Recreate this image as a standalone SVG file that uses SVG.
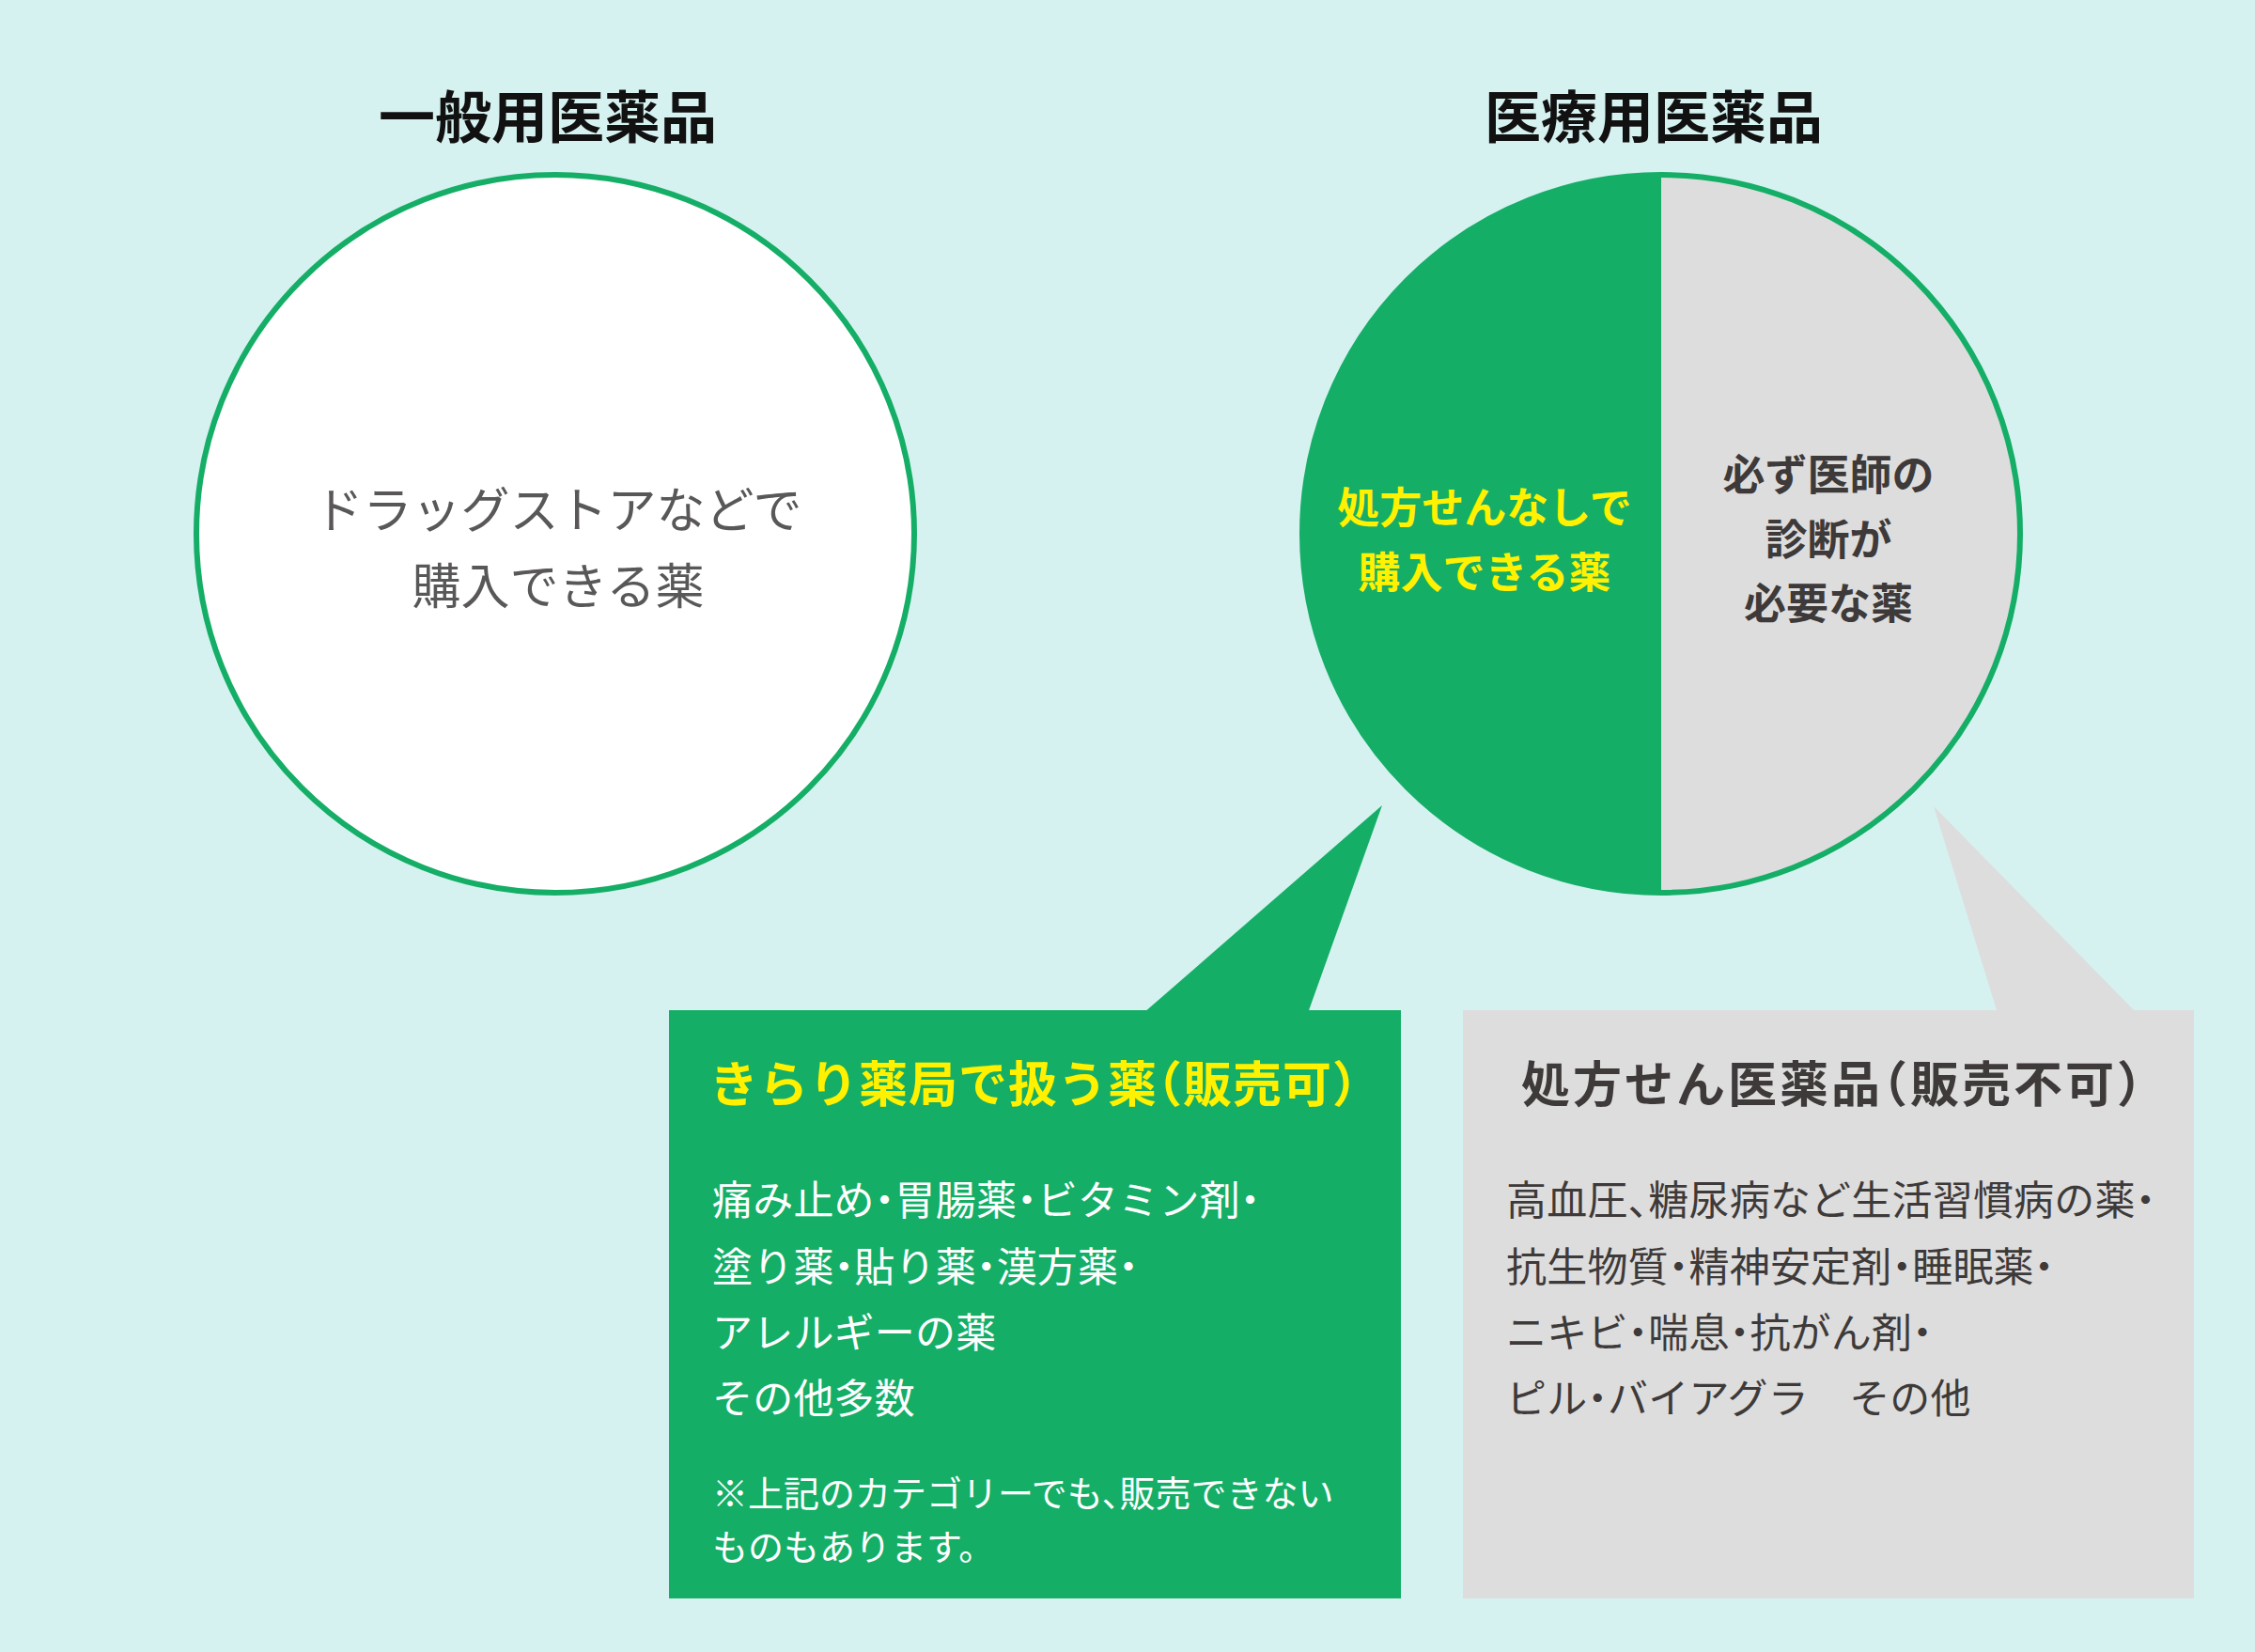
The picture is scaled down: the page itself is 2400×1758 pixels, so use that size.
<svg xmlns="http://www.w3.org/2000/svg" width="2400" height="1758" viewBox="0 0 2400 1758">
<style>
text{font-family:"Noto Sans CJK JP","Noto Sans",sans-serif;}
.title{font-size:60px;font-weight:700;fill:#111;text-anchor:middle;}
.ctext{font-size:52px;fill:#595757;text-anchor:middle;}
.ytext{font-size:45px;font-weight:700;fill:#FFF100;text-anchor:middle;}
.gtext{font-size:45px;font-weight:700;fill:#3E3A39;text-anchor:middle;}
.htitle{font-size:52px;font-weight:700;font-feature-settings:"halt" 1;}
.body{font-size:43px;font-feature-settings:"halt" 1;letter-spacing:0.2px;}
.note{font-size:38px;font-feature-settings:"halt" 1;}
.white{fill:#FFFFFF;}
.yellow{fill:#FFF100;}
.dark{fill:#3E3A39;}
.green{fill:#15AE67;}
.grey{fill:#DDDDDD;}
</style>
<rect x="0" y="0" width="2400" height="1758" fill="#D5F2F0"/>

<g id="title-left"><text class="title" x="583" y="147">一般用医薬品</text></g>
<g id="title-right"><text class="title" x="1760" y="147">医療用医薬品</text></g>

<g id="circle-left">
<circle cx="591" cy="568" r="382" fill="#FFFFFF" stroke="#15AE67" stroke-width="6"/>
<text class="ctext" x="594" y="562">ドラッグストアなどで</text>
<text class="ctext" x="594" y="643">購入できる薬</text>
</g>

<g id="circle-right">
<path class="green" d="M1768,186 A382,382 0 0,0 1768,950 Z"/>
<path class="grey" d="M1768,186 A382,382 0 0,1 1768,950 Z"/>
<circle cx="1768" cy="568" r="382" fill="none" stroke="#15AE67" stroke-width="6"/>
<text class="ytext" x="1580" y="557">処方せんなしで</text>
<text class="ytext" x="1580" y="626">購入できる薬</text>
<text class="gtext" x="1946" y="522">必ず医師の</text>
<text class="gtext" x="1946" y="591">診断が</text>
<text class="gtext" x="1946" y="659">必要な薬</text>
</g>

<g id="connectors">
<polygon class="green" points="1217,1078 1471,857 1392,1078"/>
<polygon class="grey" points="2126,1078 2058,858 2274,1078"/>
</g>

<g id="callout-green">
<rect class="green" x="712" y="1075" width="779" height="626"/>
<text class="htitle yellow" x="755" y="1173" letter-spacing="1">きらり薬局で扱う薬（販売可）</text>
<text class="body white" x="758" y="1293"><tspan>痛み止め</tspan><tspan>・</tspan><tspan>胃腸薬</tspan><tspan>・</tspan><tspan>ビタミン剤</tspan><tspan>・</tspan></text>
<text class="body white" x="758" y="1364"><tspan>塗り薬</tspan><tspan>・</tspan><tspan>貼り薬</tspan><tspan>・</tspan><tspan>漢方薬</tspan><tspan>・</tspan></text>
<text class="body white" x="758" y="1434">アレルギーの薬</text>
<text class="body white" x="758" y="1504">その他多数</text>
<text class="note white" x="758" y="1603"><tspan>※上記のカテゴリーでも</tspan><tspan>、</tspan><tspan>販売できない</tspan></text>
<text class="note white" x="758" y="1660">ものもあります。</text>
</g>

<g id="callout-grey">
<rect class="grey" x="1557" y="1075" width="778" height="626"/>
<text class="htitle dark" x="1619" y="1173" letter-spacing="3">処方せん医薬品（販売不可）</text>
<text class="body dark" x="1603" y="1293"><tspan>高血圧</tspan><tspan>、</tspan><tspan>糖尿病など生活習慣病の薬</tspan><tspan>・</tspan></text>
<text class="body dark" x="1603" y="1364"><tspan>抗生物質</tspan><tspan>・</tspan><tspan>精神安定剤</tspan><tspan>・</tspan><tspan>睡眠薬</tspan><tspan>・</tspan></text>
<text class="body dark" x="1603" y="1434"><tspan>ニキビ</tspan><tspan>・</tspan><tspan>喘息</tspan><tspan>・</tspan><tspan>抗がん剤</tspan><tspan>・</tspan></text>
<text class="body dark" x="1603" y="1504"><tspan>ピル</tspan><tspan>・</tspan><tspan>バイアグラ　その他</tspan></text>
</g>
</svg>
